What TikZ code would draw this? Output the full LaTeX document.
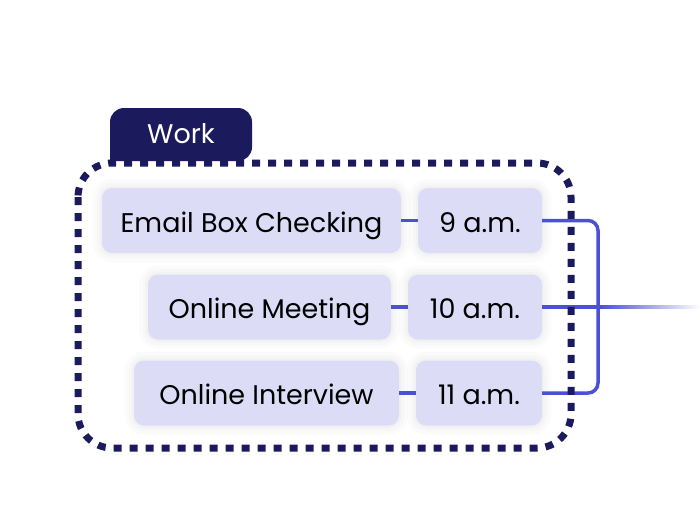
\documentclass[tikz,border=0pt]{standalone}
\usepackage{fontspec}
\setmainfont{Poppins}
\definecolor{navy}{HTML}{1B1A5C}
\definecolor{boxfill}{HTML}{DCDCF7}
\definecolor{lineblue}{HTML}{4B50D6}
\begin{document}
\begin{tikzpicture}[x=1pt,y=-1pt,
  txt/.style={font=\fontsize{27}{32}\selectfont, text height=23pt, text depth=0pt},
  item/.style={txt, fill=boxfill, rounded corners=10pt, minimum height=65pt, inner sep=0pt,
    text=black,
    preaction={draw=black, draw opacity=0.015, line width=18pt},
    preaction={draw=black, draw opacity=0.015, line width=11pt},
    preaction={draw=black, draw opacity=0.02, line width=5pt}},
  conn/.style={draw=lineblue, line width=3.5pt}]
\useasboundingbox[fill=white] (0,0) rectangle (700,520);
% tab
\fill[navy, rounded corners=14pt] (110,161) -- (110,108) -- (252,108) -- (252,161) [sharp corners] -- cycle;
\node[txt, text=white] (tab) at (181,132) {Work};
% boxes
\node[item, minimum width=299pt] (b1) at (251.5,220.5) {Email Box Checking};
\node[item, minimum width=124pt] (t1) at (480,220.5) {9 a.m.};
\node[item, minimum width=243pt] (b2) at (269.5,307) {Online Meeting};
\node[item, minimum width=134pt] (t2) at (475,307) {10 a.m.};
\node[item, minimum width=265pt] (b3) at (266.5,393) {Online Interview};
\node[item, minimum width=126pt] (t3) at (479,393) {11 a.m.};
% connectors
\draw[conn] (b1.east) -- (t1.west);
\draw[conn] (b2.east) -- (t2.west);
\draw[conn] (b3.east) -- (t3.west);
\coordinate (c1) at (598,220.5);
\coordinate (c3) at (598,393);
\coordinate (m) at (600,307);
\draw[conn, rounded corners=10pt] (t1.east) -- (c1) -- (c3) -- (t3.east);
\draw[conn] (t2.east) -- (m);
\shade[left color=lineblue, right color=white] (600,305.25) rectangle (700,308.75);
% dashed frame
\draw[navy, line width=7pt, dash pattern=on 8pt off 8pt, rounded corners=34pt] (78,163) rectangle (571,448);
\end{tikzpicture}
\end{document}
